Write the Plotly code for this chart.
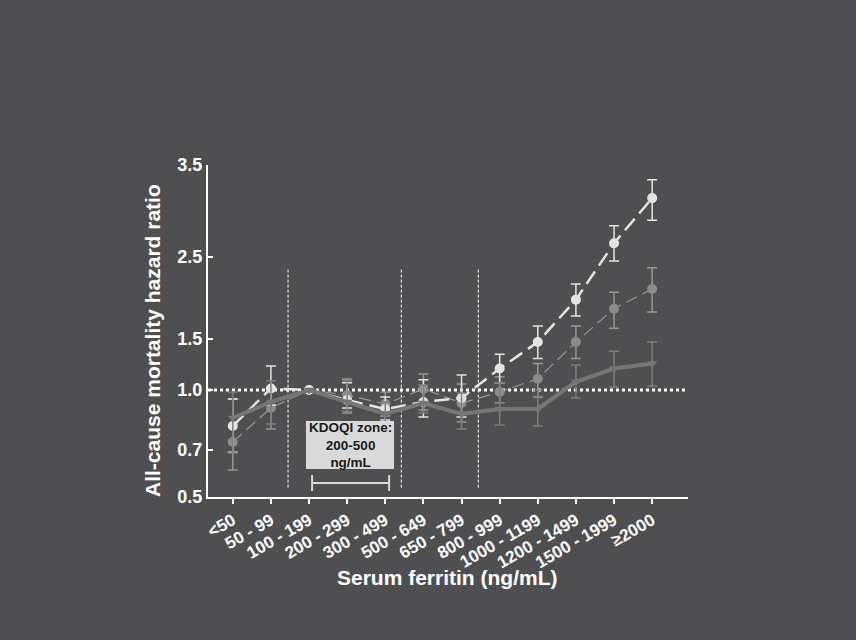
import numpy as np
import plotly.graph_objects as go

# Serum ferritin categories (ng/mL)
categories = ["<50", "50 - 99", "100 - 199", "200 - 299", "300 - 499", "500 - 649",
              "650 - 799", "800 - 999", "1000 - 1199", "1200 - 1499", "1500 - 1999", "≥2000"]

# Hazard ratios with 95% CI, three models
hr_a = [0.82, 1.015, 1.0, 0.95, 0.905, 0.94, 0.96, 1.21, 1.47, 1.98, 2.65, 3.14]
lo_a = [0.69, 0.925, 1.0, 0.91, 0.85, 0.865, 0.865, 1.07, 1.31, 1.78, 2.45, 2.90]
hi_a = [0.955, 1.235, 1.0, 1.07, 0.965, 1.10, 1.147, 1.35, 1.66, 2.17, 2.84, 3.34]

hr_b = [0.74, 0.91, 1.0, 0.975, 0.93, 1.01, 0.935, 0.99, 1.11, 1.47, 1.87, 2.11]
lo_b = [0.615, 0.805, 1.0, 0.885, 0.87, 0.90, 0.84, 0.935, 0.965, 1.31, 1.63, 1.83]
hi_b = [0.955, 1.02, 1.0, 1.108, 0.99, 1.157, 1.06, 1.13, 1.26, 1.66, 2.07, 2.37]

hr_c = [0.86, 0.94, 1.0, 0.94, 0.88, 0.935, 0.88, 0.905, 0.905, 1.08, 1.21, 1.26]
lo_c = [0.687, 0.83, 1.0, 0.895, 0.83, 0.885, 0.805, 0.825, 0.82, 0.96, 1.03, 1.04]
hi_c = [0.99, 1.09, 1.0, 1.09, 0.94, 1.05, 0.985, 1.07, 1.0, 1.245, 1.38, 1.47]

# Y axis tick labels and the stretched hazard-ratio scale they sit on
y_ticks = [0.5, 0.7, 1.0, 1.5, 2.5, 3.5]
y_tick_units = [0, 47, 107, 158, 240, 332]


def hr_scale(v):
    return np.interp(np.asarray(v, dtype=float), y_ticks, y_tick_units)


BG = "#4f4f51"
x = np.arange(len(categories))

fig = go.Figure()


def add_series(hr, lo, hi, color, bar_color, symbol, size, line):
    yv = hr_scale(hr)
    fig.add_trace(go.Scatter(
        x=x, y=yv, mode="lines+markers",
        customdata=np.stack([hr, lo, hi], axis=1),
        hovertemplate="%{customdata[0]:.2f} (%{customdata[1]:.2f}-%{customdata[2]:.2f})<extra></extra>",
        line=line,
        marker=dict(symbol=symbol, size=size, color=color),
        error_y=dict(type="data", symmetric=False,
                     array=hr_scale(hi) - yv, arrayminus=yv - hr_scale(lo),
                     color=bar_color, thickness=1.5, width=5),
        showlegend=False,
    ))


add_series(hr_b, lo_b, hi_b, "#8c8c8c", "#969696", "circle", 10,
           dict(color="#969696", width=1.2, dash="12px,6px"))
add_series(hr_a, lo_a, hi_a, "#e3e3e3", "#e3e3e3", "circle", 10,
           dict(color="#e3e3e3", width=2.5, dash="15px,7px"))
add_series(hr_c, lo_c, hi_c, "#767676", "#7e7e7e", "triangle-down", 9,
           dict(color="#767676", width=4))

shapes = []
# Reference line at HR = 1.0
shapes.append(dict(type="line", xref="paper", yref="y", x0=0, x1=1,
                   y0=float(hr_scale(1.0)), y1=float(hr_scale(1.0)),
                   line=dict(color="white", width=3, dash="3px,3px"), layer="below"))
# Vertical separators
for xv in [1.45, 4.42, 6.44]:
    shapes.append(dict(type="line", xref="x", yref="y", x0=xv, x1=xv,
                       y0=float(hr_scale(0.54)), y1=float(hr_scale(2.37)),
                       line=dict(color="white", width=1, dash="3px,2px"), layer="below"))
# KDOQI zone box and bracket
shapes.append(dict(type="rect", xref="x", yref="paper", x0=1.92, x1=4.23, y0=0.084, y1=0.229,
                   fillcolor="#d9d9d9", line=dict(width=0)))
br_col = "#d9d9d9"
shapes.append(dict(type="line", xref="x", yref="paper", x0=2.08, x1=4.1, y0=0.042, y1=0.042,
                   line=dict(color=br_col, width=2)))
for xv in [2.08, 4.1]:
    shapes.append(dict(type="line", xref="x", yref="paper", x0=xv, x1=xv, y0=0.018, y1=0.066,
                       line=dict(color=br_col, width=2)))

annotations = [
    dict(text="<b>KDOQI zone:<br>200-500<br>ng/mL</b>", xref="x", yref="paper",
         x=3.075, y=0.157, xanchor="center", yanchor="middle", showarrow=False,
         font=dict(size=13.5, color="#1a1a1a")),
    dict(text="<b>All-cause mortality hazard ratio</b>", xref="paper", yref="paper",
         x=(152 - 208) / 480, y=(497 - 341) / 332, xanchor="center", yanchor="middle",
         textangle=-90, showarrow=False, font=dict(size=21, color="white")),
    dict(text="<b>Serum ferritin (ng/mL)</b>", xref="paper", yref="paper",
         x=(447 - 208) / 480, y=(497 - 577) / 332, xanchor="center", yanchor="middle",
         showarrow=False, font=dict(size=21, color="white")),
]

fig.update_layout(
    width=856, height=640,
    margin=dict(l=208, r=168, t=165, b=143),
    paper_bgcolor=BG, plot_bgcolor=BG,
    font=dict(family="Liberation Sans, Arial, sans-serif", color="white"),
    shapes=shapes, annotations=annotations,
    xaxis=dict(range=[-0.65, 11.94], tickvals=list(x),
               ticktext=[f"<b>{c}</b>" for c in categories],
               tickangle=-30, tickfont=dict(size=17, color="white"),
               showgrid=False, zeroline=False, showline=True, linecolor="white", linewidth=2,
               ticks="outside", ticklen=5, tickwidth=2, tickcolor="white"),
    yaxis=dict(range=[0, 332], tickvals=y_tick_units,
               ticktext=[f"<b>{t:.1f}</b>" for t in y_ticks],
               tickfont=dict(size=18, color="white"),
               showgrid=False, zeroline=False, showline=True, linecolor="white", linewidth=2,
               ticks="inside", ticklen=5, tickwidth=2, tickcolor="white"),
)

fig.write_html("out.html")
